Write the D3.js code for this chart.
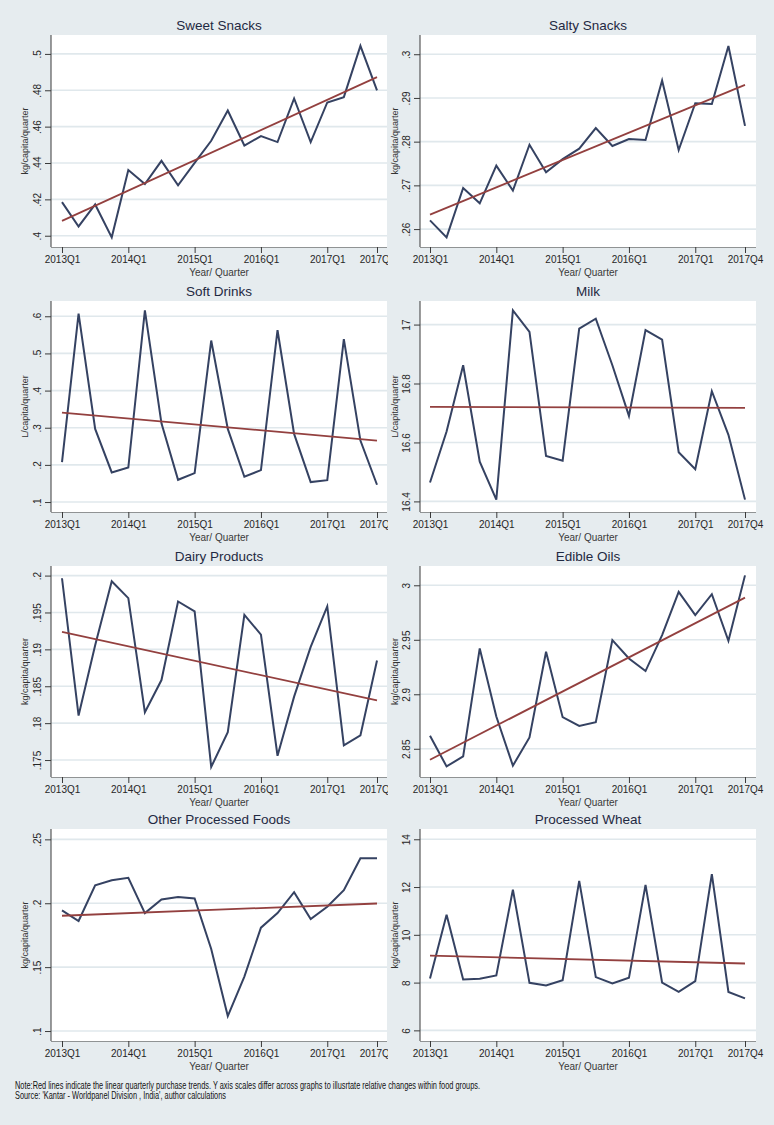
<!DOCTYPE html>
<html><head><meta charset="utf-8">
<script src="https://cdn.jsdelivr.net/npm/d3@7"></script>
<style>
body{margin:0;background:#e6ecef;}
svg{display:block;font-family:"Liberation Sans",Arial,sans-serif;}
</style>
</head><body>
<svg id="chart" width="774" height="1125"></svg>
<script>
// ---------- DATA ----------
const quarters = ["2013Q1","2013Q2","2013Q3","2013Q4","2014Q1","2014Q2","2014Q3","2014Q4",
  "2015Q1","2015Q2","2015Q3","2015Q4","2016Q1","2016Q2","2016Q3","2016Q4",
  "2017Q1","2017Q2","2017Q3","2017Q4"];
const xTickLabels = ["2013Q1","2014Q1","2015Q1","2016Q1","2017Q1","2017Q4"];
const panelTitles = ["Sweet Snacks","Salty Snacks","Soft Drinks","Milk","Dairy Products","Edible Oils","Other Processed Foods","Processed Wheat"];
const yAxisTitles = ["kg/capita/quarter","kg/capita/quarter","L/capita/quarter","L/capita/quarter","kg/capita/quarter","kg/capita/quarter","kg/capita/quarter","kg/capita/quarter"];
const xAxisTitle = "Year/ Quarter";

const sweetSnacks = [0.4185,0.4051,0.4172,0.3991,0.4361,0.4284,0.4412,0.4277,0.4401,0.4522,0.4689,0.4496,0.4548,0.4515,0.4755,0.4515,0.4733,0.4762,0.5044,0.4799];
const saltySnacks = [0.2620,0.2581,0.2694,0.2659,0.2745,0.2688,0.2793,0.2730,0.2760,0.2784,0.2831,0.2790,0.2806,0.2804,0.2940,0.2781,0.2888,0.2886,0.3019,0.2836];
const softDrinks = [0.2073,0.6072,0.2968,0.1796,0.1930,0.6161,0.3120,0.1599,0.1778,0.5347,0.2968,0.1680,0.1859,0.5624,0.2834,0.1537,0.1590,0.5383,0.2655,0.1465];
const milk = [16.464,16.637,16.862,16.535,16.406,17.048,16.975,16.554,16.538,16.986,17.020,16.862,16.690,16.981,16.949,16.567,16.509,16.774,16.626,16.406];
const dairyProducts = [0.19964,0.18103,0.19056,0.19924,0.19694,0.18147,0.18584,0.19649,0.19514,0.17406,0.17878,0.19469,0.19200,0.17558,0.18359,0.19033,0.19582,0.17698,0.17833,0.18849];
const edibleOils = [2.8619,2.8338,2.8430,2.9421,2.8796,2.8345,2.8604,2.9390,2.8790,2.8710,2.8744,2.9497,2.9329,2.9213,2.9543,2.9939,2.9726,2.9918,2.9491,3.0091];
const otherProcessed = [0.1944,0.1861,0.2141,0.2180,0.2199,0.1923,0.2030,0.2048,0.2037,0.1642,0.1117,0.1426,0.1809,0.1923,0.2087,0.1876,0.1972,0.2102,0.2352,0.2352];
const processedWheat = [8.17,10.84,8.13,8.16,8.30,11.89,7.99,7.88,8.10,12.26,8.23,7.96,8.20,12.09,8.00,7.61,8.06,12.54,7.61,7.34];

// linear trend end points (first quarter, last quarter)
const trendSweet = [0.4082,0.4872];
const trendSalty = [0.2633,0.2930];
const trendSoft = [0.3406,0.2655];
const trendMilk = [16.721,16.717];
const trendDairy = [0.19236,0.18309];
const trendOils = [2.8399,2.9887];
const trendOther = [0.1902,0.1998];
const trendWheat = [9.13,8.80];

const ticksSweet = [0.4,0.42,0.44,0.46,0.48,0.5];
const ticksSalty = [0.26,0.27,0.28,0.29,0.3];
const ticksSoft = [0.1,0.2,0.3,0.4,0.5,0.6];
const ticksMilk = [16.4,16.6,16.8,17];
const ticksDairy = [0.175,0.18,0.185,0.19,0.195,0.2];
const ticksOils = [2.85,2.9,2.95,3];
const ticksOther = [0.1,0.15,0.2,0.25];
const ticksWheat = [6,8,10,12,14];

// ---------- LAYOUT ----------
const series = [sweetSnacks,saltySnacks,softDrinks,milk,dairyProducts,edibleOils,otherProcessed,processedWheat];
const trends = [trendSweet,trendSalty,trendSoft,trendMilk,trendDairy,trendOils,trendOther,trendWheat];
const yTicks = [ticksSweet,ticksSalty,ticksSoft,ticksMilk,ticksDairy,ticksOils,ticksOther,ticksWheat];
// value shown at axis bottom / plot top
const yDomains = [[0.3938,0.5104],[0.2559,0.3044],[0.0732,0.6411],[16.364,17.080],
                  [0.1727,0.2013],[2.8241,3.0177],[0.0922,0.2581],[5.555,14.43]];
const cols = [{axis:51,right:387,x0:62,x1:377,clip:388,lab:-10,ytx:25},
              {axis:420,right:756,x0:430,x1:745,clip:774,lab:-10,ytx:395}];
const rows = [{top:35,bottom:247},{top:301,bottom:512},{top:566,bottom:777},{top:829,bottom:1041}];

const fmt = v => {
  let s = d3.format("~g")(+v.toFixed(4));
  return s.replace(/^0\./,".");
};

const svg = d3.select("#chart");
svg.append("rect").attr("width",774).attr("height",1125).attr("fill","#e6ecef");
const defs = svg.append("defs");

series.forEach((data,i)=>{
  const c = cols[i%2], r = rows[Math.floor(i/2)];
  const g = svg.append("g");
  const clipId = "clip"+i;
  defs.append("clipPath").attr("id",clipId).append("rect")
     .attr("x",c.clip-400).attr("y",0).attr("width",400).attr("height",1125);

  const x = d3.scalePoint().domain(quarters).range([c.x0,c.x1]);
  const y = d3.scaleLinear().domain(yDomains[i]).range([r.bottom,r.top]);

  // plot region
  g.append("rect").attr("x",c.axis).attr("y",r.top)
    .attr("width",c.right-c.axis).attr("height",r.bottom-r.top).attr("fill","#ffffff");

  // gridlines
  g.append("g").selectAll("line").data(yTicks[i]).join("line")
    .attr("x1",c.axis).attr("x2",c.right)
    .attr("y1",d=>y(d)).attr("y2",d=>y(d))
    .attr("stroke","#e0e8ec").attr("stroke-width",1.6);

  // title
  g.append("text").attr("x",(c.axis+c.right)/2).attr("y",r.top-5.5)
    .attr("text-anchor","middle").attr("font-size",13.5).attr("fill","#1f2942")
    .text(panelTitles[i]);

  // y axis
  const ya = g.append("g").attr("transform",`translate(${c.axis},0)`)
    .call(d3.axisLeft(y).tickValues(yTicks[i]).tickSize(6).tickSizeOuter(0).tickFormat(fmt));
  ya.select(".domain").attr("stroke","#3a3a3a").attr("d",`M0,${r.top}V${r.bottom}`);
  ya.selectAll(".tick line").attr("stroke","#3a3a3a");
  ya.selectAll(".tick text")
    .attr("transform","rotate(-90)")
    .attr("x",0).attr("y",c.lab).attr("dy",0)
    .attr("text-anchor","middle").attr("font-size",10)
    .attr("font-family","'Liberation Sans',Arial,sans-serif").attr("fill","#262626");

  g.append("text").attr("transform",`translate(${c.ytx+3},${(r.top+r.bottom)/2}) rotate(-90)`)
    .attr("text-anchor","middle").attr("font-size",9).attr("fill","#333")
    .text(yAxisTitles[i]);

  // x axis
  const xa = g.append("g").attr("transform",`translate(0,${r.bottom})`)
    .attr("clip-path",`url(#${clipId})`)
    .call(d3.axisBottom(x).tickValues(xTickLabels).tickSize(6).tickSizeOuter(0));
  xa.select(".domain").attr("stroke","#3a3a3a").attr("d",`M${c.axis},0H${c.right}`);
  xa.selectAll(".tick line").attr("stroke","#3a3a3a");
  xa.selectAll(".tick text").attr("y",9).attr("dy","0.71em").attr("font-size",10)
    .attr("font-family","'Liberation Sans',Arial,sans-serif").attr("fill","#262626");

  g.append("text").attr("x",(c.axis+c.right)/2).attr("y",r.bottom+29)
    .attr("text-anchor","middle").attr("font-size",10).attr("fill","#3a3a3a")
    .text(xAxisTitle);

  // series line
  g.append("path").datum(data)
    .attr("d",d3.line().x((d,k)=>x(quarters[k])).y(d=>y(d)))
    .attr("fill","none").attr("stroke","#354262").attr("stroke-width",2)
    .attr("stroke-linejoin","miter");

  // trend line
  const tr = trends[i];
  g.append("path").datum([[quarters[0],tr[0]],[quarters[quarters.length-1],tr[1]]])
    .attr("d",d3.line().x(d=>x(d[0])).y(d=>y(d[1])))
    .attr("fill","none").attr("stroke","#93403f").attr("stroke-width",1.8);
});

// notes
const notes = ["Note:Red lines indicate the linear quarterly purchase trends. Y axis scales differ across graphs to illusrtate relative changes within food groups.",
               "Source: 'Kantar - Worldpanel Division , India', author calculations"];
const noteWidths = [465,211];
notes.forEach((t,k)=>{
  svg.append("text").attr("x",15).attr("y",1088.5+k*10)
    .attr("font-size",10.5).attr("fill","#111")
    .attr("font-family","'Liberation Sans Narrow','Arial Narrow','Liberation Sans',sans-serif")
    .attr("textLength",noteWidths[k]).attr("lengthAdjust","spacingAndGlyphs")
    .text(t);
});
</script>
</body></html>
